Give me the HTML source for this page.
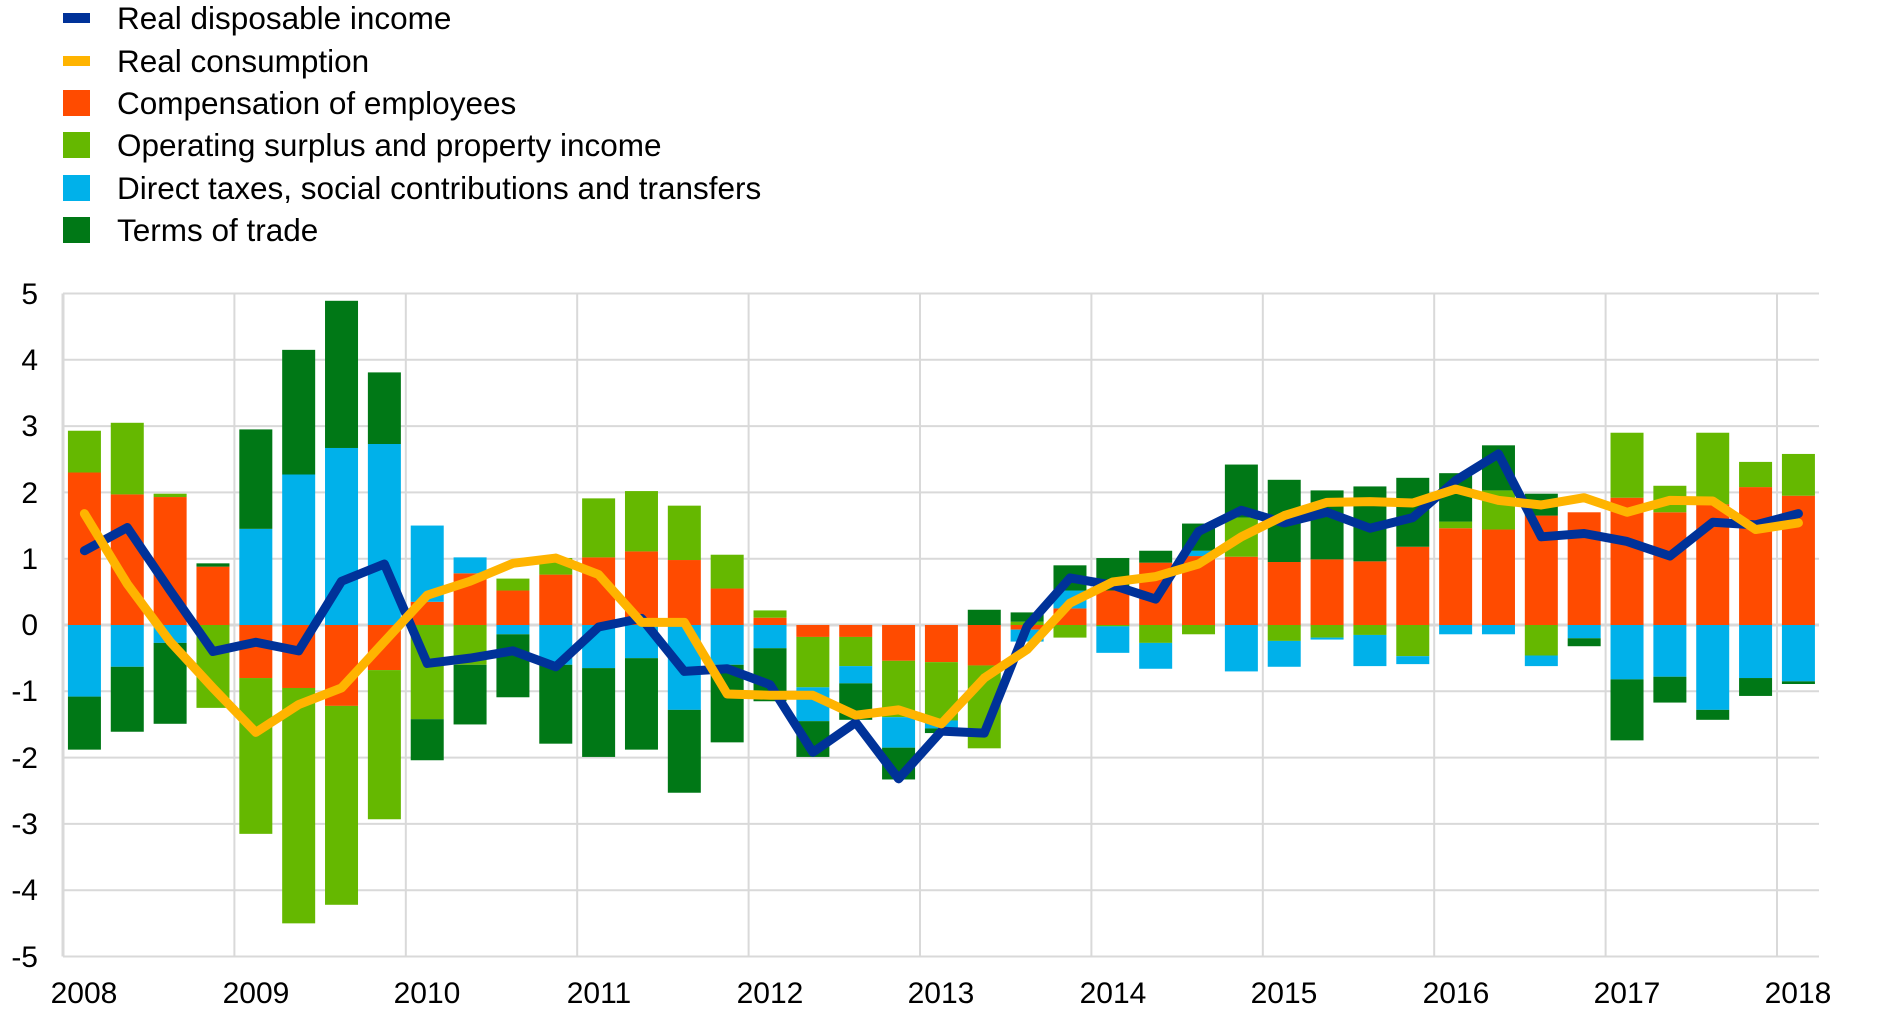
<!DOCTYPE html>
<html><head><meta charset="utf-8"><style>
html,body{margin:0;padding:0;background:#fff;}
svg{display:block;font-family:"Liberation Sans",Arial,sans-serif;}
</style></head><body>
<svg id="c" width="1890" height="1024" viewBox="0 0 1890 1024" xmlns="http://www.w3.org/2000/svg">
<g id="grid"></g>
<g id="bars"></g>
<g id="lines"></g>
<g font-size="31.5" fill="#000">
<rect x="63" y="13" width="27" height="10" fill="#003299"/>
<text x="117" y="29">Real disposable income</text>
<rect x="63" y="56" width="27" height="10" fill="#FFB400"/>
<text x="117" y="72">Real consumption</text>
<rect x="63" y="90" width="27" height="26" fill="#FF4B00"/>
<text x="117" y="114">Compensation of employees</text>
<rect x="63" y="132" width="27" height="26" fill="#65B800"/>
<text x="117" y="156">Operating surplus and property income</text>
<rect x="63" y="175" width="27" height="26" fill="#00B1EA"/>
<text x="117" y="199">Direct taxes, social contributions and transfers</text>
<rect x="63" y="217" width="27" height="26" fill="#007816"/>
<text x="117" y="241">Terms of trade</text>
</g>
<g font-size="30" fill="#000" text-anchor="end">
<text x="38" y="304">5</text>
<text x="38" y="370">4</text>
<text x="38" y="436">3</text>
<text x="38" y="503">2</text>
<text x="38" y="569">1</text>
<text x="38" y="635">0</text>
<text x="38" y="701">-1</text>
<text x="38" y="768">-2</text>
<text x="38" y="834">-3</text>
<text x="38" y="900">-4</text>
<text x="38" y="967">-5</text>
</g>
<g font-size="30" fill="#000" text-anchor="middle">
<text x="84" y="1003">2008</text>
<text x="256" y="1003">2009</text>
<text x="427" y="1003">2010</text>
<text x="599" y="1003">2011</text>
<text x="770" y="1003">2012</text>
<text x="941" y="1003">2013</text>
<text x="1113" y="1003">2014</text>
<text x="1284" y="1003">2015</text>
<text x="1456" y="1003">2016</text>
<text x="1627" y="1003">2017</text>
<text x="1798" y="1003">2018</text>
</g>
</svg>
<script>
var NS="http://www.w3.org/2000/svg";
function el(p,t,a){var e=document.createElementNS(NS,t);for(var k in a)e.setAttribute(k,a[k]);p.appendChild(e);return e;}
var X0=63,QW=42.85,Z=625,U=66.3;
function Y(v){return Z-v*U;}
var g=document.getElementById("grid");
for(var v=-5;v<=5;v++){el(g,"line",{x1:X0,x2:1819,y1:Y(v),y2:Y(v),stroke:"#d9d9d9","stroke-width":v==0?3:2});}
for(var y=0;y<=10;y++){var x=X0+y*4*QW;el(g,"line",{x1:x,x2:x,y1:Y(5),y2:Y(-5),stroke:"#d9d9d9","stroke-width":y==0?3:2});}
var d=[
[2.3,0.63,-1.08,-0.8,1.12,1.68],
[1.97,1.08,-0.63,-0.98,1.47,0.62],
[1.93,0.05,-0.27,-1.22,0.52,-0.25],
[0.88,-1.25,0,0.05,-0.4,-0.95],
[-0.8,-2.35,1.45,1.5,-0.26,-1.62],
[-0.95,-3.55,2.27,1.88,-0.39,-1.2],
[-1.22,-3.0,2.67,2.22,0.66,-0.95],
[-0.68,-2.25,2.73,1.08,0.92,-0.25],
[0.35,-1.42,1.15,-0.62,-0.58,0.45],
[0.78,-0.6,0.24,-0.9,-0.5,0.66],
[0.52,0.18,-0.14,-0.95,-0.39,0.93],
[0.76,0.25,-0.6,-1.19,-0.63,1.01],
[1.02,0.89,-0.65,-1.34,-0.03,0.76],
[1.11,0.91,-0.5,-1.38,0.1,0.04],
[0.98,0.82,-1.28,-1.25,-0.7,0.04],
[0.55,0.51,-0.6,-1.17,-0.66,-1.04],
[0.11,0.11,-0.35,-0.8,-0.9,-1.06],
[-0.18,-0.76,-0.51,-0.54,-1.92,-1.06],
[-0.18,-0.44,-0.26,-0.55,-1.47,-1.36],
[-0.54,-0.85,-0.46,-0.48,-2.32,-1.28],
[-0.56,-0.88,-0.12,-0.07,-1.6,-1.49],
[-0.61,-1.25,0,0.23,-1.63,-0.8],
[-0.07,0.05,-0.18,0.14,-0.02,-0.37],
[0.25,-0.19,0.27,0.38,0.71,0.33],
[0.52,-0.02,-0.4,0.49,0.6,0.65],
[0.94,-0.27,-0.39,0.18,0.39,0.73],
[1.04,-0.14,0.08,0.41,1.41,0.92],
[1.03,0.59,-0.7,0.8,1.73,1.33],
[0.95,-0.24,-0.39,1.24,1.54,1.65],
[0.99,-0.19,-0.03,1.04,1.7,1.85],
[0.96,-0.15,-0.47,1.13,1.46,1.86],
[1.18,-0.47,-0.12,1.04,1.62,1.84],
[1.46,0.1,-0.14,0.73,2.18,2.05],
[1.44,0.59,-0.14,0.68,2.58,1.88],
[1.65,-0.46,-0.16,0.33,1.33,1.81],
[1.7,0,-0.2,-0.12,1.38,1.92],
[1.92,0.98,-0.82,-0.92,1.26,1.7],
[1.7,0.4,-0.78,-0.39,1.04,1.88],
[1.82,1.08,-1.28,-0.15,1.55,1.87],
[2.08,0.38,-0.8,-0.27,1.51,1.44],
[1.95,0.63,-0.85,-0.04,1.68,1.54]];
var cols=["#FF4B00","#65B800","#00B1EA","#007816"];
var b=document.getElementById("bars");
var p1=[],p2=[];
d.forEach(function(r,i){
 var cx=X0+QW/2+i*QW,pos=0,neg=0;
 for(var s=0;s<4;s++){var v=r[s];if(v==0)continue;
  var a,bb;if(v>0){a=pos;bb=pos+v;pos=bb;}else{a=neg;bb=neg+v;neg=bb;}
  var y1=Y(Math.max(a,bb)),y2=Y(Math.min(a,bb));
  el(b,"rect",{x:cx-16.5,y:y1,width:33,height:y2-y1,fill:cols[s]});}
 p1.push(cx+","+Y(r[4]));p2.push(cx+","+Y(r[5]));
});
var l=document.getElementById("lines");
el(l,"polyline",{points:p1.join(" "),fill:"none",stroke:"#003299","stroke-width":9,"stroke-linejoin":"round","stroke-linecap":"round"});
el(l,"polyline",{points:p2.join(" "),fill:"none",stroke:"#FFB400","stroke-width":9,"stroke-linejoin":"round","stroke-linecap":"round"});
</script>
</body></html>
